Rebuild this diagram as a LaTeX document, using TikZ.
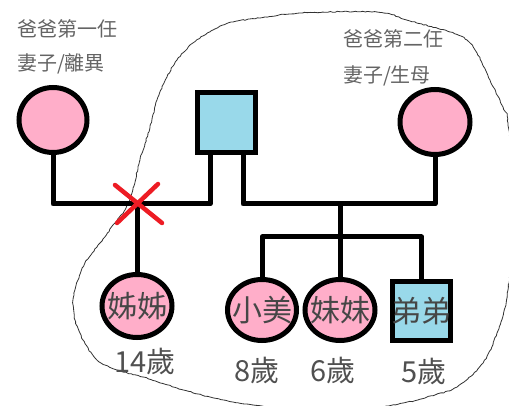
\documentclass[tikz,border=0pt]{standalone}
\usepackage{fontspec}
\setmainfont{Noto Sans CJK TC}
\usetikzlibrary{shapes.geometric,decorations.pathmorphing,calc}
\definecolor{fpink}{RGB}{255,174,201}
\definecolor{mblue}{RGB}{153,217,234}
\definecolor{xred}{RGB}{237,28,36}
\definecolor{toptxt}{RGB}{100,100,100}
\definecolor{intxt}{RGB}{70,70,70}
\definecolor{agetxt}{RGB}{80,80,80}
\definecolor{curvecol}{RGB}{50,50,50}
\tikzset{
  female/.style={ellipse, draw=black, line width=5pt, fill=fpink, inner sep=0pt},
  male/.style={rectangle, draw=black, line width=5pt, fill=mblue, inner sep=0pt},
  inname/.style={label={[text=intxt, font=\fontsize{30}{32}\selectfont, inner sep=0pt]center:#1}},
  link/.style={line width=5pt, draw=black, line join=round, line cap=round},
  toplabel/.style={text=toptxt, font=\fontsize{20}{22}\selectfont, inner sep=0pt},
  agelabel/.style={text=agetxt, font=\fontsize{29}{31}\selectfont, inner sep=0pt},
  crossline/.style={line width=4.5pt, draw=xred, line cap=round}
}
\begin{document}
\begin{tikzpicture}[x=1pt,y=-1pt]
\useasboundingbox (0,0) rectangle (509,406);
% enclosure
\draw[curvecol, line width=0.8pt, decorate, decoration={random steps, segment length=2.5pt, amplitude=0.5pt}]
  plot[smooth cycle, tension=0.55] coordinates {
  (125,210) (132,193) (140,160) (150,127) (157,100) (167,77) (177,60) (193,43) (213,30) (233,22) (260,18)
  (300,13) (377,12) (407,20) (450,32) (467,40) (477,53) (490,80) (503,107) (508,123)
  (514,200) (508,290) (497,333) (483,363) (457,387) (427,397) (403,403)
  (330,414) (253,405) (210,397) (177,388) (143,377) (117,370) (97,360) (83,340) (75,320) (73,300)
  (78,280) (85,263) (100,243) (115,223)};
% parents
\node[female, minimum width=68pt, minimum height=65pt] (lm) at (53,120) {};
\node[female, minimum width=70pt, minimum height=65pt] (rm) at (435,122) {};
\node[male, minimum width=58pt, minimum height=60pt] (fa) at (226.5,122.5) {};
% labels
\node[toplabel] (l1) at (67,29) {爸爸第一任};
\node[toplabel] (l2) at (61,64) {妻子/離異};
\node[toplabel] (l3) at (393,39) {爸爸第二任};
\node[toplabel] (l4) at (387,76) {妻子/生母};
% children
\node[female, minimum width=70pt, minimum height=63pt, inname=姊姊] (c0) at (137,306) {};
\node[female, minimum width=69pt, minimum height=61pt, inname=小美] (c1) at (262,310) {};
\node[female, minimum width=70pt, minimum height=61pt, inname=妹妹] (c2) at (340,310) {};
\node[male, minimum width=58pt, minimum height=59pt, inname=弟弟] (c3) at (421.5,311) {};
% ages
\node[agelabel] (a0) at (145,362) {14歲};
\node[agelabel] (a1) at (257,371) {8歲};
\node[agelabel] (a2) at (333,371) {6歲};
\node[agelabel] (a3) at (424,372) {5歲};
% connectors
\coordinate (fl) at (210,204);
\coordinate (fr) at (243,204);
\coordinate (mid) at (340,204);
\coordinate (bus) at (340,237);
\coordinate (xc) at (137,204);
\draw[link] (lm.south) |- (fl) -- (fl |- fa.south);
\draw[link] (fr |- fa.south) -- (fr) -| (rm.south);
\draw[link] (mid) -- (bus);
\draw[link] (c1.north) |- (bus) -| (c3.north);
\draw[link] (bus) -- (c2.north);
\draw[link] (xc) -- (c0.north);
% red cross
\draw[crossline] ($(xc)+(-22,-19)$) -- ($(xc)+(25,19)$);
\draw[crossline] ($(xc)+(21,-20)$) -- ($(xc)+(-20,19)$);
\end{tikzpicture}
\end{document}
